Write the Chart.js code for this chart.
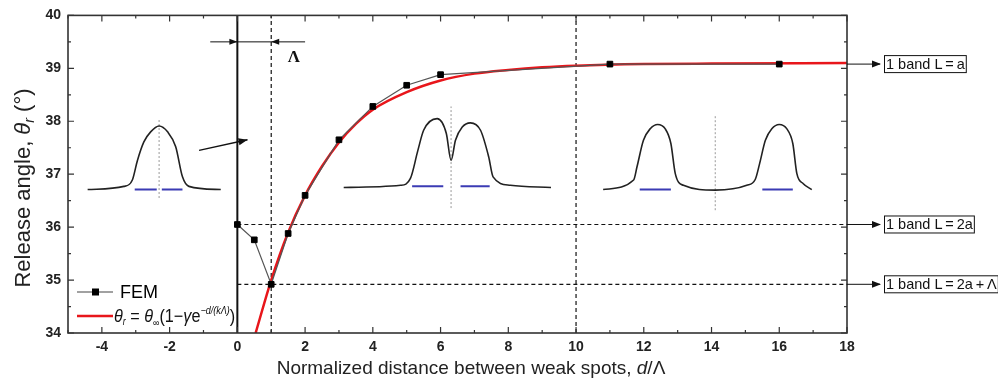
<!DOCTYPE html>
<html>
<head>
<meta charset="utf-8">
<script src="https://cdn.jsdelivr.net/npm/chart.js@4.4.0/dist/chart.umd.min.js"></script>
<style>
  html, body { margin: 0; padding: 0; background: #fff; }
</style>
</head>
<body>
<canvas id="chart" width="998" height="383"></canvas>
<script>
// FEM results
const femX = [0, 0.5, 1, 1.5, 2, 3, 4, 5, 6, 11, 16];
const femY = [36.05, 35.76, 34.92, 35.88, 36.6, 37.65, 38.28, 38.68, 38.88, 39.08, 39.08];

// fitted curve
const fitX = [0.54, 1, 1.5, 2, 2.5, 3, 3.5, 4, 5, 6, 7, 8, 9, 10, 12, 14, 18];
const fitY = [34.0, 35.0, 35.9, 36.6, 37.15, 37.6, 37.95, 38.22, 38.55, 38.77, 38.9, 38.97, 39.02, 39.05, 39.08, 39.09, 39.1];

const xTicks = [-4, -2, 0, 2, 4, 6, 8, 10, 12, 14, 16, 18];
const yTicks = [34, 35, 36, 37, 38, 39, 40];

// reference lines
const solidLineX = 0;
const dashedLinesX = [1, 10];
const dashedLinesY = [36.05, 34.92];

// band labels on the right
const bandLabels = ['1 band L\u2009=\u2009a', '1 band L\u2009=\u20092a', '1 band L\u2009=\u20092a\u2009+\u2009\u039B'];
const bandLevels = [39.08, 36.05, 34.92];

// inset pulse shapes
const pulse1X = [-4.42, -3.35, -3.10, -2.95, -2.76, -2.56, -2.31, -2.06, -1.82, -1.62, -1.43, -0.49];
const pulse1Y = [36.71, 36.77, 36.89, 37.26, 37.61, 37.80, 37.91, 37.80, 37.52, 36.95, 36.77, 36.71];
const pulse2X = [3.14, 4.82, 5.11, 5.33, 5.50, 5.90, 6.17, 6.31, 6.44, 6.64, 6.88, 7.18, 7.42, 7.55, 8.06, 9.26];
const pulse2Y = [36.75, 36.79, 36.92, 37.45, 37.83, 38.05, 37.77, 37.26, 37.64, 37.89, 37.97, 37.83, 37.33, 36.95, 36.79, 36.75];
const pulse3X = [10.80, 11.70, 11.80, 11.99, 12.19, 12.41, 12.63, 12.80, 12.93, 13.17, 14.11, 15.04, 15.29, 15.42, 15.59, 15.78, 16.00, 16.22, 16.40, 16.52, 16.71, 16.96];
const pulse3Y = [36.71, 36.89, 37.14, 37.64, 37.86, 37.94, 37.86, 37.58, 37.01, 36.79, 36.70, 36.79, 36.90, 37.20, 37.64, 37.86, 37.94, 37.86, 37.58, 37.01, 36.82, 36.71];

const symAxisX = [-2.31, 6.31, 14.11];
const symAxisTop = [38.06, 38.28, 38.11];
const symAxisBottom = [36.55, 36.36, 36.32];

const bandStart = [-3.03, -2.23, 5.16, 6.59, 11.88, 15.50];
const bandEnd = [-2.38, -1.62, 6.08, 7.45, 12.80, 16.40];
const bandY = [36.71, 36.71, 36.77, 36.77, 36.71, 36.71];

// arrows
const lambdaArrowY = 39.5;
const lambdaArrowFrom = -0.8;
const lambdaArrowTo = 2.0;
const lambdaLabel = [1.67, 39.2];
const insetArrow = [[-1.13, 37.45], [0.30, 37.65]];

const FONT = '"Liberation Sans", Arial, sans-serif';

function pts(xs, ys) {
    return xs.map((x, i) => ({ x: x, y: ys[i] }));
}

const datasets = [];

datasets.push({
    label: 'FEM',
    data: pts(femX, femY),
    showLine: true,
    borderColor: '#555',
    borderWidth: 1.2,
    pointStyle: 'rect',
    pointRadius: 4,
    pointBorderWidth: 1,
    pointBackgroundColor: '#000',
    pointBorderColor: '#000',
    order: 0
});

datasets.push({
    label: 'fit',
    data: pts(fitX, fitY),
    showLine: true,
    borderColor: '#e8161b',
    borderWidth: 2.5,
    pointRadius: 0,
    cubicInterpolationMode: 'monotone',
    order: 1
});

datasets.push({
    data: [{ x: solidLineX, y: 34 }, { x: solidLineX, y: 40 }],
    showLine: true, borderColor: '#111', borderWidth: 2, pointRadius: 0, order: 3
});

dashedLinesX.forEach(v => datasets.push({
    data: [{ x: v, y: 34 }, { x: v, y: 40 }],
    showLine: true, borderColor: '#111', borderWidth: 1.2, borderDash: [4, 3], pointRadius: 0, order: 3
}));

dashedLinesY.forEach(v => datasets.push({
    data: [{ x: 0, y: v }, { x: 18, y: v }],
    showLine: true, borderColor: '#111', borderWidth: 1.2, borderDash: [4, 3], pointRadius: 0, order: 3
}));

[[pulse1X, pulse1Y], [pulse2X, pulse2Y], [pulse3X, pulse3Y]].forEach(p => datasets.push({
    data: pts(p[0], p[1]),
    showLine: true, borderColor: '#222', borderWidth: 1.6, pointRadius: 0,
    cubicInterpolationMode: 'monotone', order: 4
}));

symAxisX.forEach((v, i) => datasets.push({
    data: [{ x: v, y: symAxisBottom[i] }, { x: v, y: symAxisTop[i] }],
    showLine: true, borderColor: '#999', borderWidth: 1, borderDash: [2, 2], pointRadius: 0, order: 5
}));

bandStart.forEach((v, i) => datasets.push({
    data: [{ x: v, y: bandY[i] }, { x: bandEnd[i], y: bandY[i] }],
    showLine: true, borderColor: '#3b3bb4', borderWidth: 2, pointRadius: 0, order: 5
}));

function arrowHead(ctx, x1, y1, x2, y2, len, half) {
    const a = Math.atan2(y2 - y1, x2 - x1);
    ctx.beginPath();
    ctx.moveTo(x2, y2);
    ctx.lineTo(x2 - len * Math.cos(a) + half * Math.sin(a), y2 - len * Math.sin(a) - half * Math.cos(a));
    ctx.lineTo(x2 - len * Math.cos(a) - half * Math.sin(a), y2 - len * Math.sin(a) + half * Math.cos(a));
    ctx.closePath();
    ctx.fill();
}

function drawParts(ctx, parts, x, y) {
    // parts: [text, font, dy]
    let cx = x;
    parts.forEach(p => {
        ctx.font = p[1];
        ctx.fillText(p[0], cx, y + (p[2] || 0));
        cx += ctx.measureText(p[0]).width;
    });
    return cx - x;
}

function partsWidth(ctx, parts) {
    let w = 0;
    parts.forEach(p => { ctx.font = p[1]; w += ctx.measureText(p[0]).width; });
    return w;
}

const decorations = {
    id: 'decorations',
    afterDraw(chart) {
        const ctx = chart.ctx;
        const xs = chart.scales.x, ys = chart.scales.y;
        const a = chart.chartArea;
        const px = v => xs.getPixelForValue(v);
        const py = v => ys.getPixelForValue(v);

        ctx.save();
        ctx.strokeStyle = '#333';
        ctx.fillStyle = '#000';

        // inward ticks
        ctx.lineWidth = 1.2;
        ctx.beginPath();
        for (let v = -5; v <= 18; v++) {
            const len = (v % 2 === 0) ? 6 : 3;
            const x = px(v);
            ctx.moveTo(x, a.bottom); ctx.lineTo(x, a.bottom - len);
            ctx.moveTo(x, a.top); ctx.lineTo(x, a.top + len);
        }
        for (let v = 34; v <= 40; v += 0.5) {
            const len = Number.isInteger(v) ? 6 : 3;
            const y = py(v);
            ctx.moveTo(a.left, y); ctx.lineTo(a.left + len, y);
            ctx.moveTo(a.right, y); ctx.lineTo(a.right - len, y);
        }
        ctx.stroke();

        // frame
        ctx.lineWidth = 1.6;
        ctx.strokeRect(a.left, a.top, a.right - a.left, a.bottom - a.top);

        // lambda arrow
        ctx.strokeStyle = '#111';
        ctx.fillStyle = '#111';
        ctx.lineWidth = 1;
        const ly = py(lambdaArrowY);
        ctx.beginPath();
        ctx.moveTo(px(lambdaArrowFrom), ly);
        ctx.lineTo(px(lambdaArrowTo), ly);
        ctx.stroke();
        arrowHead(ctx, px(lambdaArrowFrom), ly, px(0), ly, 8, 3);
        arrowHead(ctx, px(lambdaArrowTo), ly, px(1), ly, 8, 3);
        ctx.font = 'bold 17px "Liberation Serif", serif';
        ctx.textAlign = 'center';
        ctx.textBaseline = 'middle';
        ctx.fillText('\u039B', px(lambdaLabel[0]), py(lambdaLabel[1]));

        // inset arrow
        ctx.lineWidth = 1.4;
        const ax1 = px(insetArrow[0][0]), ay1 = py(insetArrow[0][1]);
        const ax2 = px(insetArrow[1][0]), ay2 = py(insetArrow[1][1]);
        ctx.beginPath();
        ctx.moveTo(ax1, ay1); ctx.lineTo(ax2, ay2);
        ctx.stroke();
        arrowHead(ctx, ax1, ay1, ax2, ay2, 9, 3.5);

        // band labels with arrows
        ctx.textAlign = 'left';
        ctx.font = '14.5px ' + FONT;
        bandLabels.forEach((t, i) => {
            const y = py(bandLevels[i]);
            const x0 = a.right;
            const bx = a.right + 37;
            ctx.lineWidth = 1;
            ctx.beginPath();
            ctx.moveTo(x0, y); ctx.lineTo(bx - 4, y);
            ctx.stroke();
            arrowHead(ctx, x0, y, bx - 3, y, 9, 3.5);
            const w = ctx.measureText(t).width;
            ctx.strokeRect(bx + 0.5, y - 8.5, w + 3, 17);
            ctx.fillText(t, bx + 2, y + 0.5);
        });

        // legend
        const l1 = 292, l2 = 316;
        ctx.strokeStyle = '#444';
        ctx.lineWidth = 1.2;
        ctx.beginPath();
        ctx.moveTo(77, l1); ctx.lineTo(113, l1);
        ctx.stroke();
        ctx.fillStyle = '#000';
        ctx.fillRect(92, l1 - 3.5, 7, 7);
        ctx.font = '18px ' + FONT;
        ctx.textBaseline = 'middle';
        ctx.fillText('FEM', 120, l1 + 1);

        ctx.strokeStyle = '#e8161b';
        ctx.lineWidth = 2.5;
        ctx.beginPath();
        ctx.moveTo(77, l2); ctx.lineTo(113, l2);
        ctx.stroke();
        ctx.fillStyle = '#111';
        ctx.textBaseline = 'alphabetic';
        const fi = 'italic 18px ' + FONT, fn = '18px ' + FONT;
        const si = 'italic 10px ' + FONT, sn = '10px ' + FONT;
        const formula = [
            ['\u03B8', fi], ['r', si, 3], [' = ', fn], ['\u03B8', fi], ['\u221E', sn, 4],
            ['(1\u2212', fn], ['\u03B3', fi], ['e', fn], ['\u2212d/(k\u039B)', si, -8], [')', fn]
        ];
        ctx.save();
        ctx.translate(114, l2 + 6);
        ctx.scale(0.9, 1);
        drawParts(ctx, formula, 0, 0);
        ctx.restore();

        // axis titles
        ctx.fillStyle = '#222';
        const tn = '19px ' + FONT, ti = 'italic 19px ' + FONT;
        const xt = [['Normalized distance between weak spots, ', tn], ['d', ti], ['/\u039B', tn]];
        const xw = partsWidth(ctx, xt);
        drawParts(ctx, xt, 471 - xw / 2, 374);

        const yn = '22px ' + FONT, yi = 'italic 22px ' + FONT, ysub = 'italic 14px ' + FONT;
        const yt = [['Release angle, ', yn], ['\u03B8', yi], ['r', ysub, 4], [' (\u00B0)', yn]];
        const yw = partsWidth(ctx, yt);
        ctx.save();
        ctx.translate(30, 188);
        ctx.rotate(-Math.PI / 2);
        drawParts(ctx, yt, -yw / 2, 0);
        ctx.restore();

        ctx.restore();
    }
};

const config = {
    type: 'scatter',
    data: { datasets: datasets },
    options: {
        responsive: false,
        animation: false,
        devicePixelRatio: 1,
        layout: { padding: { top: 15, right: 151, left: 0, bottom: 0 } },
        plugins: { legend: { display: false }, tooltip: { enabled: false } },
        scales: {
            x: {
                type: 'linear', min: -5, max: 18,
                afterBuildTicks: s => { s.ticks = xTicks.map(v => ({ value: v })); },
                afterFit: s => { s.height = 50; },
                grid: { display: false, drawTicks: false },
                border: { display: false },
                ticks: { color: '#222', padding: 6, maxRotation: 0, autoSkip: false,
                         font: { family: FONT, size: 14, weight: 'bold' } }
            },
            y: {
                type: 'linear', min: 34, max: 40,
                afterBuildTicks: s => { s.ticks = yTicks.map(v => ({ value: v })); },
                afterFit: s => { s.width = 68; },
                grid: { display: false, drawTicks: false },
                border: { display: false },
                ticks: { color: '#222', padding: 7,
                         font: { family: FONT, size: 14, weight: 'bold' } }
            }
        }
    },
    plugins: [decorations]
};

const myChart = new Chart(document.getElementById('chart'), config);
</script>
</body>
</html>
